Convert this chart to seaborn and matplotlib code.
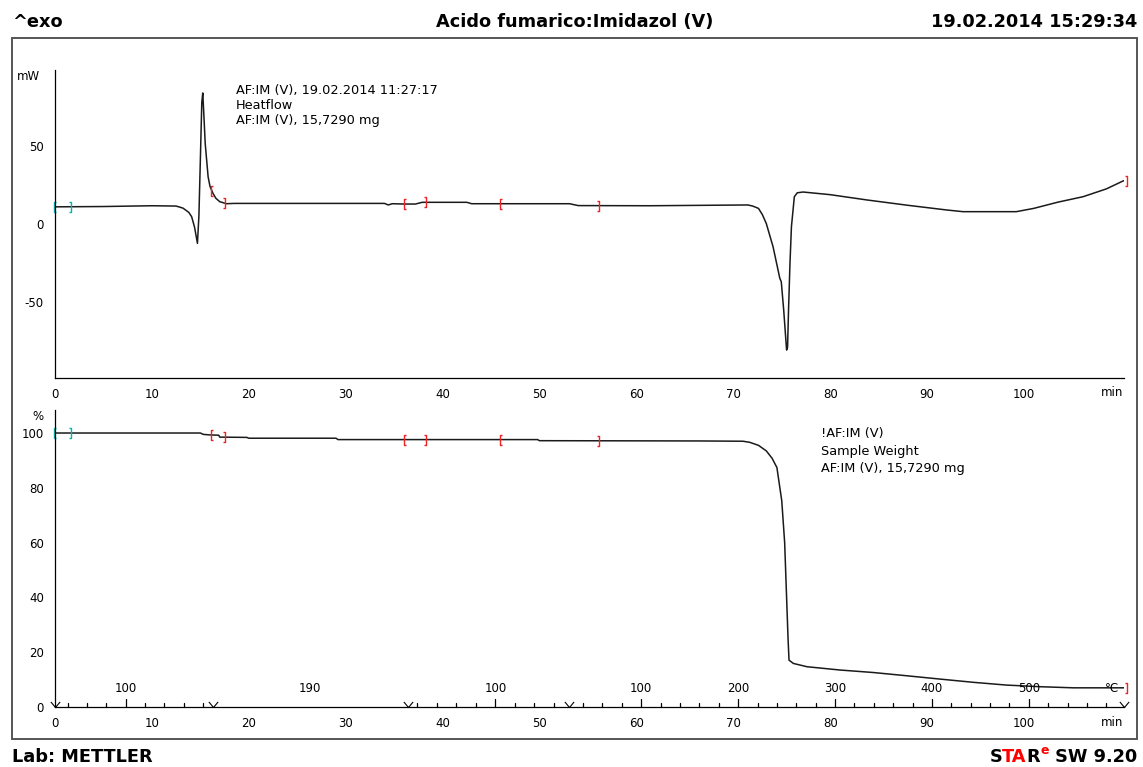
import numpy as np
import pandas as pd
import matplotlib
matplotlib.use("Agg")
import matplotlib.pyplot as plt
import seaborn as sns
from matplotlib.path import Path
from matplotlib.patches import Rectangle
from matplotlib.ticker import FixedLocator

# ---------------- data ----------------
hf_time = [0.0, 5.0, 10.0, 12.5, 13.2, 13.8, 14.1, 14.4, 14.7, 14.85, 15.0, 15.15, 15.25,
           15.4, 15.5, 15.8, 16.0, 16.3, 16.6, 17.0, 17.7, 18.5, 34.0, 34.4, 34.8, 36.0,
           37.2, 37.9, 42.5, 43.0, 53.1, 54.0, 61.4, 71.5, 72.0, 72.6, 73.0, 73.4, 74.1,
           74.8, 74.95, 75.2, 75.5, 75.6, 75.7, 75.85, 76.0, 76.3, 76.6, 77.2, 80.0, 83.8,
           88.0, 92.0, 93.7, 99.2, 101.0, 103.5, 106.1, 108.5, 110.3]
hf_mw = [11.0, 11.2, 11.7, 11.5, 10.2, 7.5, 4.7, -2.0, -12.4, 5.0, 41.0, 78.0, 84.0,
         65.0, 51.7, 30.3, 24.0, 19.7, 16.5, 14.3, 13.0, 13.2, 13.2, 12.2, 13.0, 12.8,
         12.8, 13.9, 13.9, 13.0, 13.0, 11.8, 11.7, 12.2, 11.5, 10.0, 6.0, 0.4, -14.5,
         -34.8, -37.0, -55.0, -80.8, -79.0, -55.0, -25.0, -1.7, 17.5, 20.0, 20.5, 18.8, 15.4,
         12.0, 9.0, 7.9, 7.9, 10.0, 14.0, 17.5, 22.5, 27.8]

wt_time = [0.0, 15.0, 15.3, 16.0, 16.9, 17.0, 19.8, 20.0, 29.0, 29.2, 49.8, 50.0, 66.6,
           71.0, 71.7, 72.6, 73.4, 74.0, 74.5, 75.0, 75.3, 75.5, 75.65, 75.75, 76.2, 77.6,
           81.0, 84.4, 87.9, 91.3, 94.8, 98.2, 101.7, 105.1, 110.3]
wt_pct = [100.0, 100.0, 99.5, 99.3, 99.2, 98.5, 98.4, 98.1, 98.1, 97.6, 97.6, 97.2, 97.1,
          97.0, 96.6, 95.5, 93.5, 90.8, 87.4, 75.3, 60.0, 40.0, 25.0, 17.1, 15.9, 14.7,
          13.5, 12.6, 11.4, 10.2, 9.0, 8.0, 7.4, 7.0, 7.0]

# temperature program segments (min, °C)
seg_t0 = [0.0, 16.3, 36.4, 53.0]
seg_t1 = [16.3, 36.4, 53.0, 110.3]
seg_T0 = [27, 190, 190, 25]
seg_T1 = [190, 190, 25, 598]

# integration limit brackets (min)
cyan_open, cyan_close = [0.0], [1.5]
red_open = [16.2, 36.1, 46.0]
red_close = [17.4, 38.2, 56.0, 110.5]

title_left = "^exo"
title_mid = "Acido fumarico:Imidazol (V)"
title_right = "19.02.2014 15:29:34"
footer_left = "Lab: METTLER"
info_top = ["AF:IM (V), 19.02.2014 11:27:17", "Heatflow", "AF:IM (V), 15,7290 mg"]
info_bot = ["!AF:IM (V)", "Sample Weight", "AF:IM (V), 15,7290 mg"]

# ---------------- figure ----------------
sns.set_style("white")
plt.rcParams['font.family'] = ['DejaVu Sans']
plt.rcParams['axes.unicode_minus'] = False
plt.rcParams['text.color'] = 'black'
plt.rcParams['axes.labelcolor'] = 'black'
W, H = 1143, 767
fig = plt.figure(figsize=(W / 100, H / 100), dpi=100)

def fx(x):
    return x / W

def fy(y):
    return 1 - y / H

XMAX = 110.3
left, right = 55, 55 + XMAX * 9.69
ax1 = fig.add_axes([fx(left), fy(378), fx(right) - fx(left), fy(70) - fy(378)])
ax2 = fig.add_axes([fx(left), fy(707), fx(right) - fx(left), fy(410) - fy(707)])

df_hf = pd.DataFrame({"t": hf_time, "v": hf_mw})
df_wt = pd.DataFrame({"t": wt_time, "v": wt_pct})
LC = "#1a1a1a"
sns.lineplot(data=df_hf, x="t", y="v", ax=ax1, color=LC, lw=1.1, sort=False, estimator=None)
sns.lineplot(data=df_wt, x="t", y="v", ax=ax2, color=LC, lw=1.1, sort=False, estimator=None)

ax1.set_ylim(-98.7, 98.7)
ax2.set_ylim(0, 108.4)
TFS = 8.5
for ax in (ax1, ax2):
    ax.set_xlim(0, XMAX)
    ax.set_xlabel("")
    ax.set_ylabel("")
    for s in ("top", "right"):
        ax.spines[s].set_visible(False)
    for s in ("left", "bottom"):
        ax.spines[s].set_color("black")
        ax.spines[s].set_linewidth(0.9)
    ax.xaxis.set_major_locator(FixedLocator(np.arange(0, 101, 10)))
    ax.xaxis.set_minor_locator(FixedLocator(np.arange(0, 111, 2)))
    ax.tick_params(axis="x", which="major", direction="out", length=7, width=0.9,
                   colors="black", labelsize=TFS, pad=0.3)
    ax.tick_params(axis="x", which="minor", direction="out", length=4, width=0.9, colors="black")
    ax.tick_params(axis="y", which="both", direction="out", length=6, width=0.9,
                   colors="black", labelsize=TFS, pad=2)
    ax.patch.set_alpha(0)

ax1.yaxis.set_major_locator(FixedLocator([-50, 0, 50]))
ax1.yaxis.set_minor_locator(FixedLocator(np.arange(-90, 91, 10)))
ax2.yaxis.set_major_locator(FixedLocator(np.arange(0, 101, 20)))
ax2.yaxis.set_minor_locator(FixedLocator(np.arange(0, 101, 10)))

# unit labels
fig.text(fx(28), fy(77), "mW", fontsize=TFS, ha="center", va="center")
fig.text(fx(38), fy(416), "%", fontsize=TFS, ha="center", va="center")
fig.text(fx(1112), fy(393), "min", fontsize=TFS, ha="center", va="center")
fig.text(fx(1112), fy(723), "min", fontsize=TFS, ha="center", va="center")

# brackets drawn as marker glyphs
open_path = Path([(0.3, 1), (-0.3, 1), (-0.3, -1), (0.3, -1)],
                 [Path.MOVETO, Path.LINETO, Path.LINETO, Path.LINETO])
close_path = Path([(-0.3, 1), (0.3, 1), (0.3, -1), (-0.3, -1)],
                  [Path.MOVETO, Path.LINETO, Path.LINETO, Path.LINETO])

def brackets(ax, times, path, color, tarr, varr):
    vals = np.interp(times, tarr, varr)
    ax.plot(times, vals, ls="none", marker=path, ms=7, mfc="none", mec=color,
            mew=1.0, clip_on=False)

RED = "#ee2222"
CYAN = "#00b4b4"
for ax, tarr, varr in ((ax1, hf_time, hf_mw), (ax2, wt_time, wt_pct)):
    brackets(ax, cyan_open, open_path, CYAN, tarr, varr)
    brackets(ax, cyan_close, close_path, CYAN, tarr, varr)
    brackets(ax, red_open, open_path, RED, tarr, varr)
    brackets(ax, red_close, close_path, RED, tarr, varr)

# temperature axis on lower plot
trans = ax2.get_xaxis_transform()
axh = 707 - 410
for t0, t1, T0, T1 in zip(seg_t0, seg_t1, seg_T0, seg_T1):
    if T0 == T1:
        ax2.text((t0 + t1) / 2, 19 / axh, f"{T0}", transform=trans, fontsize=TFS,
                 ha="center", va="center")
        continue
    lo, hi = min(T0, T1), max(T0, T1)
    for T in range(int(np.ceil(lo / 20) * 20), int(hi) + 1, 20):
        if T <= lo:
            continue
        t = t0 + (T - T0) / (T1 - T0) * (t1 - t0)
        L = 8 if T % 100 == 0 else 4
        ax2.plot([t, t], [0, L / axh], transform=trans, color="black", lw=0.9, clip_on=False)
        if T % 100 == 0:
            ax2.text(t, 19 / axh, f"{T}", transform=trans, fontsize=TFS, ha="center", va="center")
ax2.text(109.1, 19 / axh, "°C", transform=trans, fontsize=TFS, ha="center", va="center")

vpath = Path([(-1, 1.2), (0, 0), (1, 1.2)], [Path.MOVETO, Path.LINETO, Path.LINETO])
bounds = seg_t0 + [seg_t1[-1]]
ax2.plot(bounds, [0] * len(bounds), ls="none", marker=vpath, ms=8, mfc="none",
         mec="black", mew=0.8, transform=trans, clip_on=False)

# info text
IFS = 9.3
for i, s in enumerate(info_top):
    fig.text(fx(236), fy([90.5, 105.5, 120.5][i]), s, fontsize=IFS, ha="left", va="center")
for i, s in enumerate(info_bot):
    fig.text(fx(821), fy([434, 451, 468][i]), s, fontsize=IFS, ha="left", va="center")

# header / footer
BF = "DejaVu Sans"
HFS = 12.8
fig.text(fx(12), fy(22), title_left, fontsize=HFS, fontweight="bold", family=BF, ha="left", va="center")
fig.text(fx(575), fy(22), title_mid, fontsize=HFS, fontweight="bold", family=BF, ha="center", va="center")
fig.text(fx(1137), fy(22), title_right, fontsize=HFS, fontweight="bold", family=BF, ha="right", va="center")
fig.text(fx(12), fy(757), footer_left, fontsize=HFS, fontweight="bold", family=BF, ha="left", va="center")

renderer = fig.canvas.get_renderer()
pieces = [("S", "black", 0), ("TA", "#ff0000", 0), ("R", "black", 0), ("e", "#ff0000", 1), (" SW 9.20", "black", 0)]
xr = 1137
for txt, col, sup in reversed(pieces):
    y = 757 - (7 if sup else 0)
    t = fig.text(fx(xr), fy(y), txt, fontsize=(9 if sup else HFS), fontweight="bold",
                 family=BF, color=col, ha="right", va="center")
    bb = t.get_window_extent(renderer)
    xr -= bb.width

# outer frame
fig.add_artist(Rectangle((fx(12), fy(739)), fx(1137) - fx(12), fy(38) - fy(739),
                         transform=fig.transFigure, fill=False, ec="#555555", lw=1.4))

fig.savefig("out.png", dpi=100)
